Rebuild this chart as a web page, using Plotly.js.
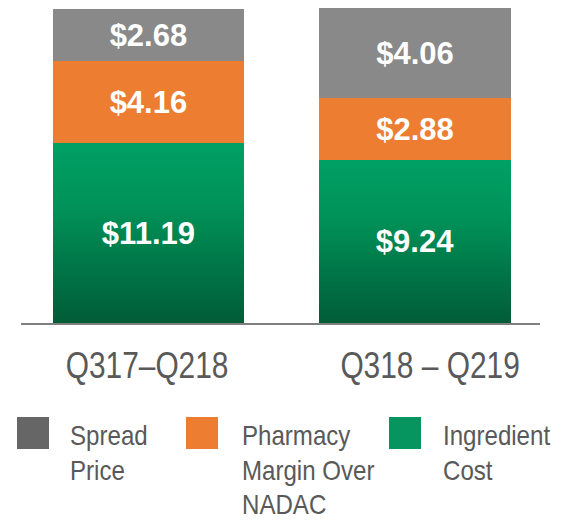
<!DOCTYPE html>
<html>
<head>
<meta charset="utf-8">
<script src="https://cdn.plot.ly/plotly-3.0.1.min.js"></script>
<style>
  html, body { margin: 0; padding: 0; background: #fff; }
  #chart { width: 570px; height: 520px; }
</style>
</head>
<body>
<div id="chart"></div>
<script>
// ---- data ----
var categories = ['Q317\u2013Q218', 'Q318 \u2013 Q219'];
// values printed on the segments
var ingredientCost = [11.19, 9.24];
var pharmacyMargin = [4.16, 2.88];
var spreadPrice = [2.68, 4.06];
// segment heights as drawn in the picture (the original is not to scale)
var ingredientHeight = [180, 163];
var marginHeight = [82, 62];
var spreadHeight = [52, 90];
var seriesNames = [['Spread', 'Price'], ['Pharmacy', 'Margin Over', 'NADAC'], ['Ingredient', 'Cost']];

// ---- styling ----
var C_GRAY = '#898989', C_ORANGE = '#ED7D31', C_GREEN = '#009A60';
var legendColors = ['#666666', '#ED7D31', '#07955F'];
var labelFont = {family: 'Liberation Sans, Arial, sans-serif', size: 31, color: '#ffffff', weight: 'bold'};
var textGray = '#595959';

function money(v) { return '<b>$' + v.toFixed(2) + '</b>'; }

function barTrace(h, vals, color, name) {
  return {
    type: 'bar', x: categories, y: h, name: name,
    width: 0.717,
    marker: {color: color, line: {width: 0}},
    text: vals.map(money), textposition: 'inside', insidetextanchor: 'middle',
    textangle: 0, constraintext: 'none', textfont: labelFont,
    hoverinfo: 'skip', showlegend: false
  };
}

var data = [
  barTrace(ingredientHeight, ingredientCost, C_GREEN, 'Ingredient Cost'),
  barTrace(marginHeight, pharmacyMargin, C_ORANGE, 'Pharmacy Margin Over NADAC'),
  barTrace(spreadHeight, spreadPrice, C_GRAY, 'Spread Price')
];

var L = 21, R = 30, T = 0, B = 197, W = 570, H = 520;
var pw = W - L - R, ph = H - T - B;
function px(x) { return (x - L) / pw; }
function py(y) { return (H - B - y) / ph; }

var shapes = [], annotations = [];
// category labels under the bars
var catShift = [-1, 15];
categories.forEach(function (c, i) {
  annotations.push({xref: 'x', yref: 'paper', x: c, y: py(365), xshift: catShift[i],
    xanchor: 'center', yanchor: 'middle', showarrow: false, text: c, borderpad: 0,
    font: {family: 'Liberation Sans, Arial, sans-serif', size: 36, color: textGray},
    _squeeze: 0.83});
});
// legend
var sqX = [17, 186, 389], txtX = [69, 241, 442];
for (var i = 0; i < 3; i++) {
  shapes.push({type: 'rect', xref: 'paper', yref: 'paper',
    x0: px(sqX[i]), x1: px(sqX[i] + 32), y0: py(417), y1: py(449),
    fillcolor: legendColors[i], line: {width: 0}});
  for (var k = 0; k < seriesNames[i].length; k++) {
    annotations.push({xref: 'paper', yref: 'paper', x: px(txtX[i]), y: py(435 + 35 * k),
      xanchor: 'left', yanchor: 'middle', align: 'left', showarrow: false,
      text: seriesNames[i][k], borderpad: 0,
      font: {family: 'Liberation Sans, Arial, sans-serif', size: 28, color: textGray}});
  }
}
var squeezeFactors = annotations.map(function (a) { var f = a._squeeze || 0.86; delete a._squeeze; return f; });

var layout = {
  width: W, height: H,
  margin: {l: L, r: R, t: T, b: B, pad: 0},
  barmode: 'stack',
  paper_bgcolor: '#ffffff', plot_bgcolor: '#ffffff',
  showlegend: false,
  xaxis: {
    type: 'category', range: [-0.478, 1.469], fixedrange: true,
    showline: true, linecolor: '#7f7f7f', linewidth: 2, layer: 'below traces',
    showgrid: false, zeroline: false, ticks: '', showticklabels: false
  },
  yaxis: {range: [0, ph], visible: false, fixedrange: true},
  shapes: shapes, annotations: annotations
};

function squeeze(el, f) {
  var len = el.getComputedTextLength();
  if (len > 0) {
    el.setAttribute('textLength', (len * f).toFixed(1));
    el.setAttribute('lengthAdjust', 'spacingAndGlyphs');
  }
}

Plotly.newPlot('chart', data, layout, {displayModeBar: false, staticPlot: true}).then(function (gd) {
  var svg = gd.querySelector('svg.main-svg');
  var ns = 'http://www.w3.org/2000/svg';
  var defs = svg.querySelector('defs') || svg.insertBefore(document.createElementNS(ns, 'defs'), svg.firstChild);
  var g = document.createElementNS(ns, 'linearGradient');
  g.setAttribute('id', 'greenGrad');
  g.setAttribute('x1', '0'); g.setAttribute('y1', '0');
  g.setAttribute('x2', '0'); g.setAttribute('y2', '1');
  [['0', '#00A064'], ['0.35', '#009259'], ['1', '#005C37']].forEach(function (s) {
    var st = document.createElementNS(ns, 'stop');
    st.setAttribute('offset', s[0]); st.setAttribute('stop-color', s[1]);
    g.appendChild(st);
  });
  defs.appendChild(g);
  var traces = gd.querySelectorAll('.barlayer .trace');
  traces[0].querySelectorAll('.point path').forEach(function (p) {
    p.style.fill = 'url(#greenGrad)';
  });
  gd.querySelectorAll('.annotation').forEach(function (a) {
    var idx = +a.getAttribute('data-index');
    var t = a.querySelector('.annotation-text');
    if (t) squeeze(t, squeezeFactors[idx] || 0.86);
  });
});
</script>
</body>
</html>
